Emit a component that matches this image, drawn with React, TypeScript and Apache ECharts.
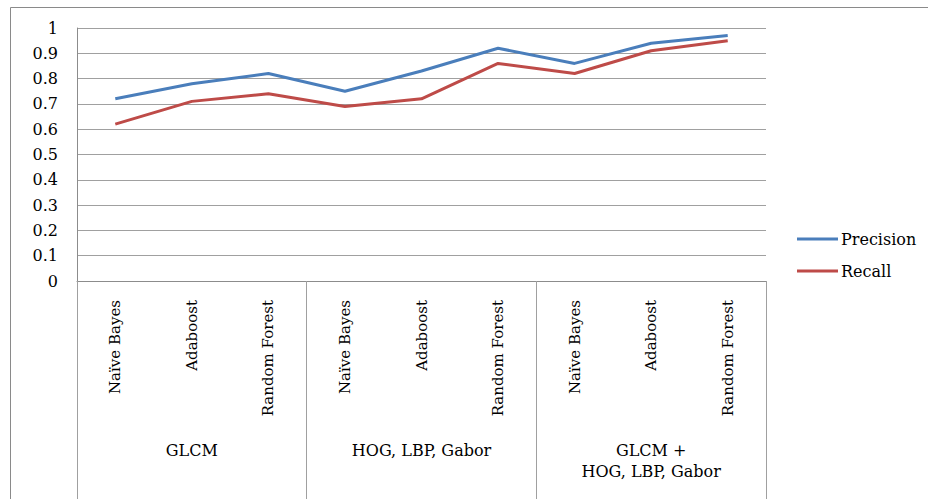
import React, { useEffect, useRef } from "react";
import * as echarts from "echarts";

const classifiers = [
  "Naïve Bayes", "Adaboost", "Random Forest",
  "Naïve Bayes", "Adaboost", "Random Forest",
  "Naïve Bayes", "Adaboost", "Random Forest",
];
const featureGroups = ["GLCM", "HOG, LBP, Gabor", "GLCM +\nHOG, LBP, Gabor"];
const precision = [0.72, 0.78, 0.82, 0.75, 0.83, 0.92, 0.86, 0.94, 0.97];
const recall = [0.62, 0.71, 0.74, 0.69, 0.72, 0.86, 0.82, 0.91, 0.95];

const FONT = "DejaVu Serif";

export default function App() {
  const ref = useRef<HTMLDivElement>(null);
  useEffect(() => {
    if (!ref.current) return;
    const chart = echarts.init(ref.current, null, { renderer: "svg" });
    chart.setOption({
      animation: false,
      backgroundColor: "#ffffff",
      textStyle: { fontFamily: FONT, color: "#000" },
      graphic: [
        {
          type: "rect",
          shape: { x: 10.5, y: 7.5, width: 1000, height: 1000 },
          style: { fill: "none", stroke: "#8a8a8a", lineWidth: 1 },
          silent: true,
        },
      ],
      grid: { left: 77, right: 162, top: 28, bottom: 218, containLabel: false },
      legend: {
        orient: "vertical",
        left: 797,
        top: 230,
        padding: 0,
        icon: "rect",
        itemWidth: 41,
        itemHeight: 3,
        itemGap: 14,
        textStyle: { fontFamily: FONT, fontSize: 16, color: "#000", lineHeight: 18, padding: [0, 0, 0, -2] },
        data: ["Precision", "Recall"],
      },
      xAxis: [
        {
          type: "category",
          data: classifiers,
          boundaryGap: true,
          axisLine: { show: true, lineStyle: { color: "#8c8c8c", width: 1 } },
          axisTick: { show: false },
          axisLabel: {
            interval: 0,
            rotate: 90,
            margin: 19,
            fontFamily: FONT,
            fontSize: 15,
            color: "#000",
          },
        },
        {
          type: "category",
          data: featureGroups,
          position: "bottom",
          boundaryGap: true,
          axisLine: { show: false },
          axisTick: {
            show: true,
            interval: 0,
            length: 222,
            lineStyle: { color: "#a0a0a0", width: 1 },
          },
          axisLabel: {
            interval: 0,
            margin: 159,
            fontFamily: FONT,
            fontSize: 16,
            lineHeight: 21,
            color: "#000",
            verticalAlign: "top",
          },
        },
      ],
      yAxis: {
        type: "value",
        min: 0,
        max: 1,
        interval: 0.1,
        axisLine: { show: true, lineStyle: { color: "#8c8c8c", width: 1 } },
        axisTick: { show: false },
        splitLine: { show: true, lineStyle: { color: "#a0a0a0", width: 1 } },
        axisLabel: {
          margin: 19,
          fontFamily: FONT,
          fontSize: 16,
          color: "#000",
          formatter: (v: number) => String(Math.round(v * 10) / 10),
        },
      },
      series: [
        {
          name: "Precision",
          type: "line",
          xAxisIndex: 0,
          data: precision,
          symbol: "none",
          lineStyle: { color: "#4A7EBB", width: 3 },
          itemStyle: { color: "#4A7EBB" },
        },
        {
          name: "Recall",
          type: "line",
          xAxisIndex: 0,
          data: recall,
          symbol: "none",
          lineStyle: { color: "#BE4B48", width: 3 },
          itemStyle: { color: "#BE4B48" },
        },
      ],
    });
    return () => chart.dispose();
  }, []);
  return (
    <div
      ref={ref}
      style={{ position: "fixed", left: 0, top: 0, width: 928, height: 499 }}
    />
  );
}
